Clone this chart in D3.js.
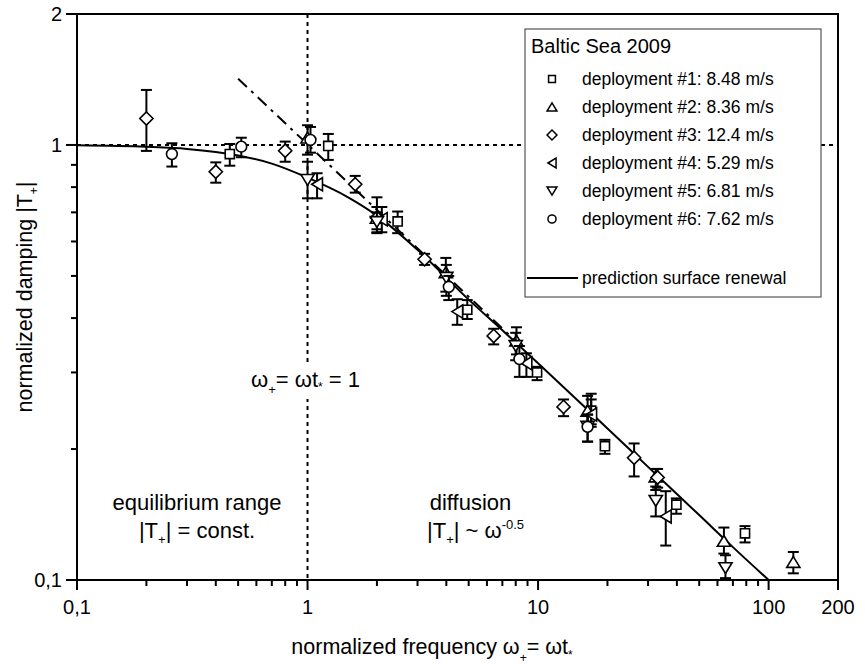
<!DOCTYPE html>
<html>
<head>
<meta charset="utf-8">
<script src="https://cdn.jsdelivr.net/npm/d3@7"></script>
<style>
  body { margin: 0; background: #fff; }
  text { font-family: "Liberation Sans", Arial, sans-serif; fill: #000; }
</style>
</head>
<body>
<div id="chart"></div>
<script>
// Datos (x = frecuencia normalizada, y = amortiguamiento, lo/hi = barras de error)
const dep1X  = [0.46, 1.23, 2.46, 4.93, 9.9, 17.0, 19.5, 39.8, 79]
const dep1Y  = [0.953, 0.995, 0.667, 0.418, 0.300, 0.245, 0.203, 0.149, 0.128]
const dep1Lo = [0.896, 0.924, 0.627, 0.398, 0.288, 0.225, 0.195, 0.142, 0.122]
const dep1Hi = [1.005, 1.06, 0.703, 0.44, 0.309, 0.268, 0.21, 0.154, 0.133]

const dep2X  = [1.0, 2.0, 3.98, 8.06, 16.4, 32.4, 64, 128]
const dep2Y  = [1.04, 0.68, 0.51, 0.355, 0.245, 0.173, 0.123, 0.110]
const dep2Lo = [0.95, 0.63, 0.46, 0.33, 0.225, 0.161, 0.115, 0.1036]
const dep2Hi = [1.11, 0.758, 0.55, 0.381, 0.265, 0.18, 0.132, 0.116]

const dep3X  = [0.2, 0.4, 0.8, 1.61, 2.0, 3.22, 6.42, 12.9, 26.1, 33]
const dep3Y  = [1.15, 0.868, 0.970, 0.812, 0.68, 0.546, 0.364, 0.250, 0.191, 0.172]
const dep3Lo = [0.969, 0.819, 0.915, 0.777, 0.64, 0.53, 0.348, 0.238, 0.173, 0.163]
const dep3Hi = [1.338, 0.912, 1.018, 0.849, 0.72, 0.562, 0.378, 0.260, 0.206, 0.18]

const dep4X  = [1.1, 2.1, 4.46, 8.9, 17.0, 35.8]
const dep4Y  = [0.812, 0.675, 0.414, 0.315, 0.24, 0.140]
const dep4Lo = [0.754, 0.63, 0.386, 0.293, 0.228, 0.12]
const dep4Hi = [0.861, 0.72, 0.442, 0.332, 0.26, 0.16]

const dep5X  = [1.0, 2.0, 4.0, 8.0, 16.4, 32.4, 65]
const dep5Y  = [0.831, 0.665, 0.495, 0.345, 0.225, 0.152, 0.1065]
const dep5Lo = [0.754, 0.627, 0.45, 0.32, 0.208, 0.140, 0.101]
const dep5Hi = [0.915, 0.70, 0.53, 0.37, 0.24, 0.164, 0.114]

const dep6X  = [0.258, 0.516, 1.03, 4.1, 8.3, 16.4]
const dep6Y  = [0.953, 0.991, 1.027, 0.472, 0.322, 0.225]
const dep6Lo = [0.892, 0.937, 0.96, 0.44, 0.293, 0.208]
const dep6Hi = [1.009, 1.039, 1.10, 0.50, 0.345, 0.24]

// Curva de prediccion (surface renewal)
const predX = [0.1, 0.2, 0.3, 0.5, 0.7, 1, 1.5, 2, 3, 5, 7, 10, 20, 30, 50, 70, 100]
const predY = [0.998, 0.990, 0.979, 0.946, 0.906, 0.841, 0.758, 0.688, 0.574, 0.441, 0.375, 0.315, 0.223, 0.182, 0.141, 0.119, 0.100]

// Recta de difusion (punto y raya)
const diffX = [0.5, 8]
const diffY = [1.42, 0.354]

const legendLabels = ["deployment #1: 8.48 m/s", "deployment #2: 8.36 m/s", "deployment #3: 12.4 m/s",
                      "deployment #4: 5.29 m/s", "deployment #5: 6.81 m/s", "deployment #6: 7.62 m/s"]
const markers = ["square", "up", "diamond", "left", "down", "circle"]

const xTicks = [0.1, 1, 10, 100, 200]
const xTickLabels = ["0,1", "1", "10", "100", "200"]
const yTicks = [0.1, 1, 2]
const yTickLabels = ["0,1", "1", "2"]

// Dimensiones
const W = 865, H = 666
const margin = {top: 14, right: 27, bottom: 86, left: 77}
const width = W - margin.left - margin.right
const height = H - margin.top - margin.bottom

const svg = d3.select("#chart").append("svg")
  .attr("width", W).attr("height", H)
const g = svg.append("g").attr("transform", `translate(${margin.left},${margin.top})`)

const x = d3.scaleLog().domain([0.1, 200]).range([0, width])
const y = d3.scaleLog().domain([0.1, 2]).range([height, 0])

// Marcadores
function markerPath(type, s) {
  const p = d3.path()
  if (type === "square") {
    p.rect(-s * 0.38, -s * 0.38, s * 0.76, s * 0.76)
  } else if (type === "circle") {
    p.arc(0, 0, s * 0.45, 0, 2 * Math.PI)
  } else if (type === "diamond") {
    const r = s * 0.55
    p.moveTo(0, -r); p.lineTo(r, 0); p.lineTo(0, r); p.lineTo(-r, 0); p.closePath()
  } else {
    const a = s * 0.55, b = s * 0.45
    let pts
    if (type === "up") pts = [[0, -b], [a, b], [-a, b]]
    else if (type === "down") pts = [[0, b], [a, -b], [-a, -b]]
    else pts = [[-b, 0], [b, -a], [b, a]]
    p.moveTo(pts[0][0], pts[0][1]); p.lineTo(pts[1][0], pts[1][1]); p.lineTo(pts[2][0], pts[2][1]); p.closePath()
  }
  return p.toString()
}

const series = [
  {xs: dep1X, ys: dep1Y, lo: dep1Lo, hi: dep1Hi},
  {xs: dep2X, ys: dep2Y, lo: dep2Lo, hi: dep2Hi},
  {xs: dep3X, ys: dep3Y, lo: dep3Lo, hi: dep3Hi},
  {xs: dep4X, ys: dep4Y, lo: dep4Lo, hi: dep4Hi},
  {xs: dep5X, ys: dep5Y, lo: dep5Lo, hi: dep5Hi},
  {xs: dep6X, ys: dep6Y, lo: dep6Lo, hi: dep6Hi}
].map((s, i) => ({marker: markers[i], points: s.xs.map((v, j) => ({x: v, y: s.ys[j], lo: s.lo[j], hi: s.hi[j]}))}))

// Lineas de referencia punteadas
g.append("line")
  .attr("x1", 0).attr("x2", width).attr("y1", y(1)).attr("y2", y(1))
  .attr("stroke", "#000").attr("stroke-width", 2).attr("stroke-dasharray", "4,4")
g.append("line")
  .attr("x1", x(1)).attr("x2", x(1)).attr("y1", 0).attr("y2", height)
  .attr("stroke", "#000").attr("stroke-width", 2).attr("stroke-dasharray", "4,4")

// Curva de prediccion
const line = d3.line().x(d => x(d[0])).y(d => y(d[1])).curve(d3.curveMonotoneX)
g.append("path")
  .datum(predX.map((v, i) => [v, predY[i]]))
  .attr("fill", "none").attr("stroke", "#000").attr("stroke-width", 2)
  .attr("d", line)

// Recta punto y raya
g.append("path")
  .datum(diffX.map((v, i) => [v, diffY[i]]))
  .attr("fill", "none").attr("stroke", "#000").attr("stroke-width", 2)
  .attr("stroke-dasharray", "12,6,3,6")
  .attr("d", d3.line().x(d => x(d[0])).y(d => y(d[1])))

// Barras de error y marcadores
series.forEach(s => {
  const grp = g.append("g")
  const eb = grp.selectAll("g.eb").data(s.points).join("g").attr("class", "eb")
  eb.append("line")
    .attr("x1", d => x(d.x)).attr("x2", d => x(d.x))
    .attr("y1", d => y(d.lo)).attr("y2", d => y(d.hi))
  eb.append("line")
    .attr("x1", d => x(d.x) - 5.5).attr("x2", d => x(d.x) + 5.5)
    .attr("y1", d => y(d.lo)).attr("y2", d => y(d.lo))
  eb.append("line")
    .attr("x1", d => x(d.x) - 5.5).attr("x2", d => x(d.x) + 5.5)
    .attr("y1", d => y(d.hi)).attr("y2", d => y(d.hi))
  eb.selectAll("line").attr("stroke", "#000").attr("stroke-width", 2)
  grp.selectAll("path").data(s.points).join("path")
    .attr("transform", d => `translate(${x(d.x)},${y(d.y)})`)
    .attr("d", markerPath(s.marker, 12))
    .attr("fill", "#fff").attr("stroke", "#000").attr("stroke-width", 1.6)
})

// Ejes
g.append("rect").attr("width", width).attr("height", height)
  .attr("fill", "none").attr("stroke", "#000").attr("stroke-width", 2)

const xMinor = []
;[0.1, 1, 10, 100].forEach(d => { for (let k = 2; k <= 9; k++) if (d * k < 200) xMinor.push(d * k) })
const yMinor = []
for (let k = 2; k <= 9; k++) yMinor.push(0.1 * k)

const xAxis = g.append("g").attr("transform", `translate(0,${height})`)
xAxis.selectAll("line.minor").data(xMinor).join("line")
  .attr("x1", d => x(d)).attr("x2", d => x(d)).attr("y1", 0).attr("y2", 6)
  .attr("stroke", "#000").attr("stroke-width", 2)
xAxis.selectAll("line.major").data(xTicks).join("line").attr("class", "major")
  .attr("x1", d => x(d)).attr("x2", d => x(d)).attr("y1", 0).attr("y2", 10)
  .attr("stroke", "#000").attr("stroke-width", 2)
xAxis.selectAll("text").data(xTicks).join("text")
  .attr("x", d => x(d)).attr("y", 34)
  .attr("text-anchor", "middle").attr("font-size", 20)
  .text((d, i) => xTickLabels[i])

const yAxis = g.append("g")
yAxis.selectAll("line.minor").data(yMinor).join("line")
  .attr("y1", d => y(d)).attr("y2", d => y(d)).attr("x1", 0).attr("x2", -6)
  .attr("stroke", "#000").attr("stroke-width", 2)
yAxis.selectAll("line.major").data(yTicks).join("line").attr("class", "major")
  .attr("y1", d => y(d)).attr("y2", d => y(d)).attr("x1", 0).attr("x2", -11)
  .attr("stroke", "#000").attr("stroke-width", 2)
yAxis.selectAll("text").data(yTicks).join("text")
  .attr("x", -15).attr("y", d => y(d)).attr("dy", "0.35em")
  .attr("text-anchor", "end").attr("font-size", 20)
  .text((d, i) => yTickLabels[i])

// Titulos de ejes
const xt = svg.append("text")
  .attr("x", 432).attr("y", 654)
  .attr("text-anchor", "middle").attr("font-size", 21.5)
xt.append("tspan").text("normalized frequency ω")
xt.append("tspan").attr("font-size", 12).attr("dy", 8).text("+")
xt.append("tspan").attr("dy", -8).text("= ωt")
xt.append("tspan").attr("font-size", 12).attr("dy", 5).text("*")

const yt = svg.append("text")
  .attr("transform", `translate(32,${margin.top + height / 2}) rotate(-90)`)
  .attr("text-anchor", "middle").attr("font-size", 21.5)
yt.append("tspan").text("normalized damping |T")
yt.append("tspan").attr("font-size", 12).attr("dy", 6).text("+")
yt.append("tspan").attr("dy", -6).text("|")

// Anotaciones
function annot(xp, yp, parts, bg) {
  const t = g.append("text").attr("x", xp).attr("y", yp).attr("text-anchor", "middle").attr("font-size", 22)
  parts.forEach(p => t.append("tspan").attr("font-size", p.fs || 22).attr("dy", p.dy || 0).text(p.t))
  if (bg) {
    const b = t.node().getBBox()
    g.insert("rect", () => t.node())
      .attr("x", b.x - 2).attr("y", b.y - 2).attr("width", b.width + 4).attr("height", b.height + 4)
      .attr("fill", "#fff")
  }
}
annot(120, 496, [{t: "equilibrium range"}])
annot(120, 524, [{t: "|T"}, {t: "+", fs: 13, dy: 6}, {t: "| = const.", dy: -6}])
annot(x(1) + 163, 496, [{t: "diffusion"}])
annot(x(1) + 168, 524, [{t: "|T"}, {t: "+", fs: 13, dy: 6}, {t: "| ~ ω", dy: -6}, {t: "-0.5", fs: 13, dy: -9}])
annot(x(1) - 2, 373, [{t: "ω"}, {t: "+", fs: 13, dy: 7}, {t: "= ωt", dy: -7}, {t: "*", fs: 12, dy: 4}, {t: " = 1", dy: -4}], true)

// Leyenda
const lg = g.append("g").attr("transform", `translate(${525 - margin.left},${29 - margin.top})`)
lg.append("rect").attr("width", 296).attr("height", 268)
  .attr("fill", "#fff").attr("stroke", "#555").attr("stroke-width", 1.2)
lg.append("text").attr("x", 6).attr("y", 24).attr("font-size", 20).text("Baltic Sea 2009")
legendLabels.forEach((lab, i) => {
  const yy = 50 + i * 28
  lg.append("path").attr("transform", `translate(27,${yy})`)
    .attr("d", markerPath(markers[i], 9))
    .attr("fill", "#fff").attr("stroke", "#000").attr("stroke-width", 1.5)
  lg.append("text").attr("x", 57).attr("y", yy).attr("dy", "0.35em").attr("font-size", 17.5).text(lab)
})
lg.append("line").attr("x1", 2).attr("x2", 53).attr("y1", 249).attr("y2", 249)
  .attr("stroke", "#000").attr("stroke-width", 2)
lg.append("text").attr("x", 57).attr("y", 249).attr("dy", "0.35em").attr("font-size", 17.5)
  .text("prediction surface renewal")
</script>
</body>
</html>
